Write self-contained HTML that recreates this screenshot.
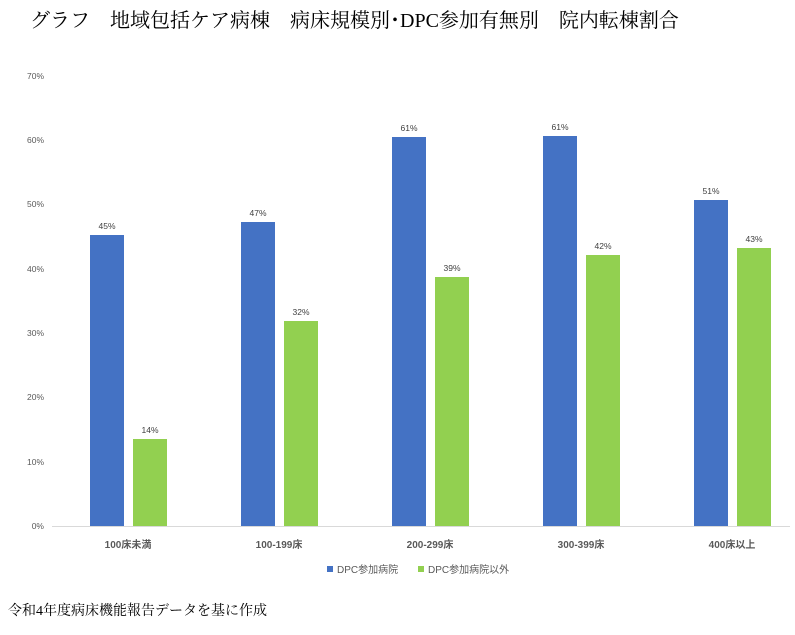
<!DOCTYPE html>
<html><head><meta charset="utf-8"><style>
body{margin:0;background:#fff;width:795px;height:635px;overflow:hidden;}
svg{display:block}
</style></head><body>
<svg width="795" height="635" xmlns="http://www.w3.org/2000/svg">
<text x="30" y="27" font-family="'Liberation Serif','Noto Serif CJK SC',serif" font-size="20" fill="#000">グラフ　地域包括ケア病棟　病床規模別･DPC参加有無別　院内転棟割合</text>
<g font-family="'Liberation Sans','Noto Sans CJK JP',sans-serif" font-size="8.5" fill="#595959" text-anchor="end">
<text x="44" y="529">0%</text>
<text x="44" y="465">10%</text>
<text x="44" y="400">20%</text>
<text x="44" y="336">30%</text>
<text x="44" y="272">40%</text>
<text x="44" y="207">50%</text>
<text x="44" y="143">60%</text>
<text x="44" y="79">70%</text>
</g>
<line x1="52" y1="526.5" x2="790" y2="526.5" stroke="#d9d9d9" stroke-width="1"/>
<g fill="#4472c4">
<rect x="90" y="235" width="34" height="291"/>
<rect x="241" y="222" width="34" height="304"/>
<rect x="392" y="137" width="34" height="389"/>
<rect x="543" y="136" width="34" height="390"/>
<rect x="694" y="200" width="34" height="326"/>
</g>
<g fill="#92d050">
<rect x="133" y="439" width="34" height="87"/>
<rect x="284" y="321" width="34" height="205"/>
<rect x="435" y="277" width="34" height="249"/>
<rect x="586" y="255" width="34" height="271"/>
<rect x="737" y="248" width="34" height="278"/>
</g>
<g font-family="'Liberation Sans',sans-serif" font-size="8.5" fill="#404040" text-anchor="middle">
<text x="107" y="229">45%</text><text x="150" y="433">14%</text>
<text x="258" y="216">47%</text><text x="301" y="315">32%</text>
<text x="409" y="131">61%</text><text x="452" y="271">39%</text>
<text x="560" y="130">61%</text><text x="603" y="249">42%</text>
<text x="711" y="194">51%</text><text x="754" y="242">43%</text>
</g>
<g font-family="'Liberation Sans','Noto Sans CJK JP',sans-serif" font-size="10" font-weight="bold" fill="#595959" text-anchor="middle">
<text x="128" y="548">100床未満</text>
<text x="279" y="548">100-199床</text>
<text x="430" y="548">200-299床</text>
<text x="581" y="548">300-399床</text>
<text x="732" y="548">400床以上</text>
</g>
<g font-family="'Liberation Sans','Noto Sans CJK JP',sans-serif" font-size="10" fill="#595959">
<rect x="327" y="566" width="6" height="6" fill="#4472c4"/>
<text x="337" y="573">DPC参加病院</text>
<rect x="418" y="566" width="6" height="6" fill="#92d050"/>
<text x="428" y="573">DPC参加病院以外</text>
</g>
<text x="8" y="615" font-family="'Liberation Serif','Noto Serif CJK SC',serif" font-size="14" fill="#000">令和4年度病床機能報告データを基に作成</text>
</svg>
</body></html>
